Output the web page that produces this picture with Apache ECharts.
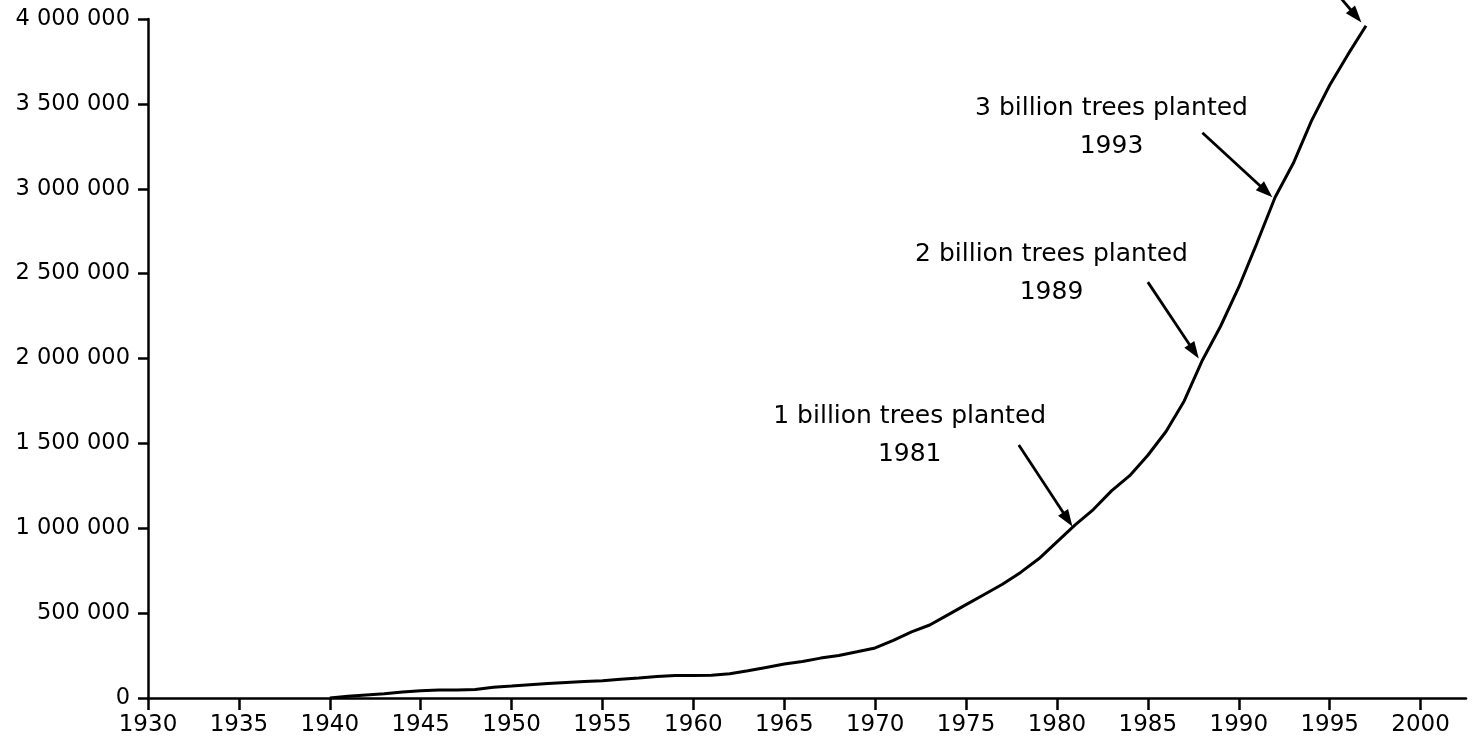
<!DOCTYPE html>
<html>
<head>
<meta charset="utf-8">
<script src="https://cdn.jsdelivr.net/npm/echarts@6/dist/echarts.min.js"></script>
<style>
html,body{margin:0;padding:0;background:#fff;}
#chart{width:1476px;height:748px;}
</style>
</head>
<body>
<div id="chart"></div>
<script>
const years = [1940,1941,1942,1943,1944,1945,1946,1947,1948,1949,1950,1951,1952,1953,1954,1955,1956,1957,1958,1959,1960,1961,1962,1963,1964,1965,1966,1967,1968,1969,1970,1971,1972,1973,1974,1975,1976,1977,1978,1979,1980,1981,1982,1983,1984,1985,1986,1987,1988,1989,1990,1991,1992,1993,1994,1995,1996,1997];
const trees = [0,10000,18000,25000,35000,42000,47000,47000,50000,63000,70000,78000,86000,92000,97000,102000,110000,118000,127000,133000,133000,134000,143000,160000,180000,200000,215000,235000,250000,272000,295000,340000,390000,430000,490000,550000,610000,670000,740000,820000,920000,1020000,1110000,1220000,1310000,1430000,1570000,1750000,1990000,2190000,2420000,2680000,2950000,3150000,3400000,3610000,3790000,3960000];
const xTicks = [1930,1935,1940,1945,1950,1955,1960,1965,1970,1975,1980,1985,1990,1995,2000];
const yTicks = [0,500000,1000000,1500000,2000000,2500000,3000000,3500000,4000000];

// annotation texts anchored in data space
const noteTexts = ['1 billion trees planted\n1981','2 billion trees planted\n1989','3 billion trees planted\n1993'];
const noteAnchors = [[1971.9,1545000],[1979.7,2503000],[1983.0,3360000]];
// arrows: [from, to] in data space
const arrows = [
  [[1977.9,1490000],[1980.85,1010000]],
  [[1985.0,2450000],[1987.8,2000000]],
  [[1988.0,3330000],[1991.85,2950000]],
  [[1995.4,4150000],[1996.75,3980000]]
];

const FONT = 'DejaVu Sans';
function spaced(v){return String(v).replace(/\B(?=(\d{3})+(?!\d))/g,' ');}

const chart = echarts.init(document.getElementById('chart'));
chart.setOption({
  backgroundColor:'#fff',
  animation:false,
  grid:{left:148,right:10,top:19,bottom:50},
  xAxis:{
    type:'value',min:1930,max:2002.5,interval:5,
    axisLine:{lineStyle:{color:'#000',width:2.5}},
    axisTick:{length:12,lineStyle:{color:'#000',width:2.5},customValues:xTicks},
    axisLabel:{customValues:xTicks,color:'#000',fontFamily:FONT,fontSize:23,margin:16,formatter:v=>String(v)},
    splitLine:{show:false}
  },
  yAxis:{
    type:'value',min:0,max:4000000,interval:500000,
    axisLine:{show:true,lineStyle:{color:'#000',width:2.5}},
    axisTick:{show:true,length:10,lineStyle:{color:'#000',width:2.5},customValues:yTicks},
    axisLabel:{customValues:yTicks,color:'#000',fontFamily:FONT,fontSize:22.5,margin:18,formatter:v=>spaced(v)},
    splitLine:{show:false}
  },
  series:[{
    type:'line',
    data:years.map((y,i)=>[y,trees[i]]),
    showSymbol:false,
    symbol:'none',
    lineStyle:{color:'#000',width:3},
    markPoint:{
      silent:true,
      symbol:'circle',symbolSize:0,
      label:{show:true,position:'inside',color:'#000',fontFamily:FONT,fontSize:25,lineHeight:38,align:'center'},
      data:noteAnchors.map((c,i)=>({coord:c,label:{formatter:noteTexts[i]}}))
    }
  }]
});

function drawArrows(){
  const els = [];
  arrows.forEach(a=>{
    const p0 = chart.convertToPixel({gridIndex:0}, a[0]);
    const p1 = chart.convertToPixel({gridIndex:0}, a[1]);
    const dx = p1[0]-p0[0], dy = p1[1]-p0[1];
    const len = Math.sqrt(dx*dx+dy*dy);
    const ux = dx/len, uy = dy/len;
    const hl = 17, hw = 6;
    const bx = p1[0]-ux*hl, by = p1[1]-uy*hl;
    els.push({type:'line',silent:true,shape:{x1:p0[0],y1:p0[1],x2:bx+ux*2,y2:by+uy*2},style:{stroke:'#000',lineWidth:2.8}});
    els.push({type:'polygon',silent:true,shape:{points:[[p1[0],p1[1]],[bx-uy*hw,by+ux*hw],[bx+uy*hw,by-ux*hw]]},style:{fill:'#000'}});
  });
  chart.setOption({graphic:{elements:els}});
}
drawArrows();
</script>
</body>
</html>
